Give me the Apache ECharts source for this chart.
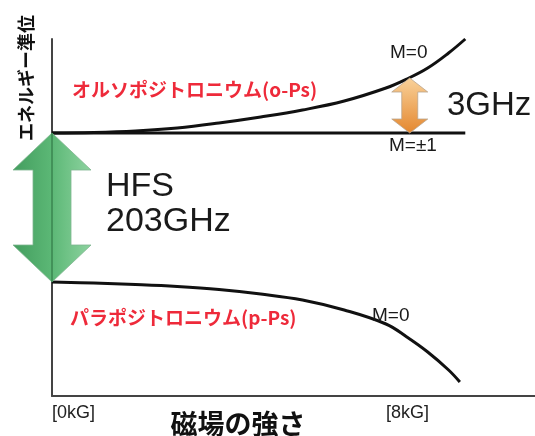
<!DOCTYPE html>
<html>
<head>
<meta charset="utf-8">
<script src="https://cdn.jsdelivr.net/npm/echarts@6/dist/echarts.min.js"></script>
<style>
html,body{margin:0;padding:0;background:#fff;}
#chart{width:535px;height:436px;}
</style>
</head>
<body>
<div id="chart"></div>
<script>
// ---- data ----
const xTickValues = [0, 8];
const xTickLabels = ['[0kG]', '[8kG]'];
const fieldB = [0, 1, 2, 3, 4, 5, 6, 7, 8, 8.5, 9, 9.5, 9.9];
const oPsM0 = [263, 263.5, 265, 268, 273, 279, 286, 295, 308, 317, 328, 343, 357];
const oPsM1B = [0, 9.9];
const oPsM1 = [263, 263];
const pPsB = [0, 1, 2, 3, 4, 5, 6, 7, 8, 8.5, 9, 9.5, 9.77];
const pPsM0 = [114, 113, 111.5, 109.5, 106.5, 102, 96, 86, 72, 59, 44, 26, 14];
const hfsArrow = [0, 263, 114];      // [B, top level, bottom level]
const zeemanArrow = [8.57, 318, 263];

const yAxisName = 'エネルギー準位';
const xAxisName = '磁場の強さ';
const oPsLabel = 'オルソポジトロニウム(o-Ps)';
const pPsLabel = 'パラポジトロニウム(p-Ps)';
const hfsLabel1 = 'HFS';
const hfsLabel2 = '203GHz';
const zeemanLabel = '3GHz';
const m0Label = 'M=0';
const m1Label = 'M=±1';

// ---- chart ----
const LAT = '"Liberation Sans", Arial, sans-serif';
const JP = '"Noto Sans CJK JP", sans-serif';
const chart = echarts.init(document.getElementById('chart'), null, {renderer: 'canvas'});

function zip(xs, ys) { return xs.map((x, i) => [x, ys[i]]); }

function arrowRender(o) {
  return function (params, api) {
    const top = api.coord([api.value(0), api.value(1)]);
    const bot = api.coord([api.value(0), api.value(2)]);
    const cx = top[0], t = top[1], b = bot[1];
    const pts = [[cx, t], [cx + o.hw, t + o.hl], [cx + o.sw, t + o.hl], [cx + o.sw, b - o.hl],
      [cx + o.hw, b - o.hl], [cx, b], [cx - o.hw, b - o.hl], [cx - o.sw, b - o.hl],
      [cx - o.sw, t + o.hl], [cx - o.hw, t + o.hl]];
    const children = [{
      type: 'polygon', shape: {points: pts},
      style: {fill: o.fill, stroke: o.stroke, lineWidth: o.lw}
    }];
    if (o.center) {
      children.push({type: 'line', shape: {x1: cx, y1: t, x2: cx, y2: b},
        style: {stroke: o.center, lineWidth: 1.5}});
    }
    return {type: 'group', children: children};
  };
}

const greenFill = new echarts.graphic.LinearGradient(0, 0, 1, 0, [
  {offset: 0, color: '#439d5e'}, {offset: 0.5, color: '#5cb876'}, {offset: 1, color: '#8ed3a0'}]);
const orangeFill = new echarts.graphic.LinearGradient(0, 0, 0, 1, [
  {offset: 0, color: '#f9d29a'}, {offset: 1, color: '#e4872f'}]);

function txt(x, y, text, size, color, weight, family, align, rot) {
  return {
    type: 'text', x: x, y: y, z: 100, rotation: rot || 0,
    style: {text: text, fontSize: size, fill: color, fontWeight: weight, fontFamily: family,
      textAlign: align || 'left', textVerticalAlign: 'middle'}
  };
}

const option = {
  animation: false,
  backgroundColor: '#fff',
  grid: {left: 52, right: 0, top: 39, bottom: 40},
  xAxis: {
    type: 'value', min: 0, max: 11.57, interval: 8,
    axisLine: {show: true, lineStyle: {color: '#444', width: 2}},
    axisTick: {show: false},
    splitLine: {show: false},
    axisLabel: {
      customValues: xTickValues,
      formatter: v => xTickLabels[xTickValues.indexOf(v)] || '',
      align: 'left', fontSize: 18, color: '#222', fontFamily: LAT, margin: 8
    }
  },
  yAxis: {
    type: 'value', min: 0, max: 357,
    axisLine: {show: true, lineStyle: {color: '#444', width: 2}},
    axisTick: {show: false}, axisLabel: {show: false}, splitLine: {show: false}
  },
  series: [
    {type: 'line', data: zip(fieldB, oPsM0), smooth: 0.4, showSymbol: false,
      lineStyle: {color: '#111', width: 3}, clip: false, z: 5},
    {type: 'line', data: zip(oPsM1B, oPsM1), showSymbol: false,
      lineStyle: {color: '#111', width: 3}, clip: false, z: 5},
    {type: 'line', data: zip(pPsB, pPsM0), smooth: 0.4, showSymbol: false,
      lineStyle: {color: '#111', width: 3}, clip: false, z: 5},
    {type: 'custom', data: [hfsArrow], encode: {x: 0, y: [1, 2]}, clip: false, z: 10,
      renderItem: arrowRender({hw: 39, sw: 19, hl: 37, fill: greenFill, stroke: '#7fb58f', lw: 0.8, center: '#3a8650'})},
    {type: 'custom', data: [zeemanArrow], encode: {x: 0, y: [1, 2]}, clip: false, z: 10,
      renderItem: arrowRender({hw: 18, sw: 8, hl: 14, fill: orangeFill, stroke: '#b9a58e', lw: 0.8})}
  ],
  graphic: [
    txt(26, 78, yAxisName, 18, '#111', 'bold', JP, 'center', Math.PI / 2),
    txt(238, 424, xAxisName, 27, '#111', 'bold', JP, 'center'),
    txt(72, 90, oPsLabel, 19, '#ee2a3a', 'bold', JP),
    txt(70, 318, pPsLabel, 19, '#ee2a3a', 'bold', JP),
    txt(106, 187, hfsLabel1, 34, '#1a1a1a', 'normal', LAT),
    txt(106, 222, hfsLabel2, 34, '#1a1a1a', 'normal', LAT),
    txt(447, 106, zeemanLabel, 33, '#1a1a1a', 'normal', LAT),
    txt(390, 53, m0Label, 19, '#1a1a1a', 'normal', LAT),
    txt(389, 146, m1Label, 19, '#1a1a1a', 'normal', LAT),
    txt(372, 316, m0Label, 19, '#1a1a1a', 'normal', LAT)
  ]
};
chart.setOption(option);
</script>
</body>
</html>
